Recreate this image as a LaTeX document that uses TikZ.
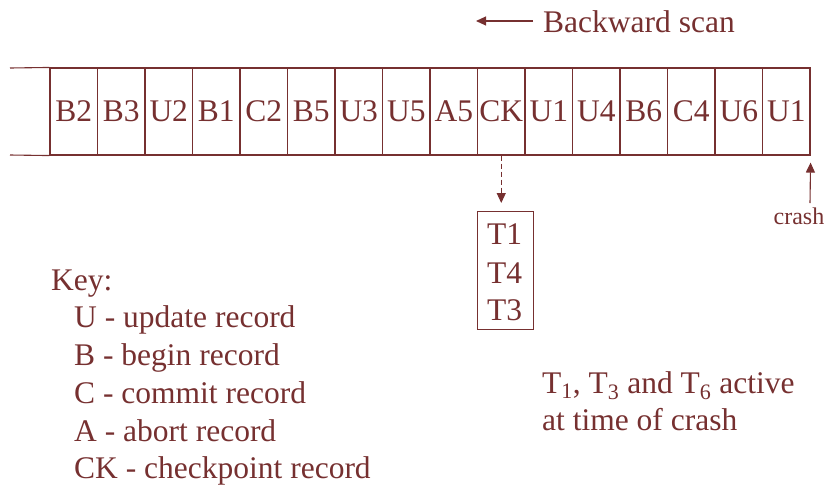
\documentclass[tikz,border=0pt]{standalone}
\usepackage{fontspec}
\setmainfont{Liberation Serif}
\usetikzlibrary{arrows.meta}
\definecolor{ink}{RGB}{118,48,48}
\begin{document}
\begin{tikzpicture}[x=1pt,y=1pt,
  every node/.style={text=ink, inner sep=0pt},
  logcell/.style={draw=ink, line width=1.1pt, minimum width=47.5pt, minimum height=87pt,
    font=\fontsize{31.5}{36}\selectfont},
  keyline/.style={anchor=base west, font=\fontsize{31.5}{36}\selectfont},
  rule/.style={draw=ink, line width=1.1pt},
  tip/.style={-{Triangle[length=10pt,width=9pt]}}
]
\useasboundingbox (0,0) rectangle (829,-488);

% log records, oldest on the left
\foreach \lbl [count=\i] in {B2,B3,U2,B1,C2,B5,U3,U5,A5,CK,U1,U4,B6,C4,U6,U1}
  \node[logcell] (c\i) at ({50+47.5*(\i-0.5)},-111.5) {\lbl};
\coordinate (lt) at (10,-68);
\coordinate (lb) at (10,-155);
\draw[rule] (lt) -- (c1.north west);
\draw[rule] (lb) -- (c1.south west);

% scan direction
\node[keyline] (scan) at (543,-32) {Backward scan};
\coordinate (scanend) at (476,-21);
\draw[rule, tip] (533,-21) -- (scanend);

% checkpoint list of active transactions
\node[draw=ink, line width=1.1pt, minimum width=56pt, minimum height=118pt,
      anchor=north west] (ckbox) at (477,-211) {};
\node[keyline] (t1) at (487,-244) {T1};
\node[keyline] (t4) at (487,-283) {T4};
\node[keyline] (t3) at (487,-320) {T3};
\draw[rule, tip, dash pattern=on 5pt off 3pt] (c10.south) -- ([yshift=8pt]ckbox.north -| c10.south);

% crash point
\node[anchor=base, font=\fontsize{24}{28}\selectfont] (crash) at (799,-224) {crash};
\coordinate (crashtail) at (810,-203);
\draw[rule, tip] (crashtail) -- ([yshift=-7pt]c16.south east);

% key
\node[keyline] (key) at (51,-290) {Key:};
\node[keyline] (ku) at (74,-327) {U - update record};
\node[keyline] (kb) at (74,-365) {B - begin record};
\node[keyline] (kc) at (74,-403) {C - commit record};
\node[keyline] (ka) at (74,-441) {A - abort record};
\node[keyline] (kck) at (74,-478) {CK - checkpoint record};

% note
\node[keyline] (n1) at (542,-393) {T\textsubscript{1}, T\textsubscript{3} and T\textsubscript{6} active};
\node[keyline] (n2) at (542,-430) {at time of crash};
\end{tikzpicture}
\end{document}
